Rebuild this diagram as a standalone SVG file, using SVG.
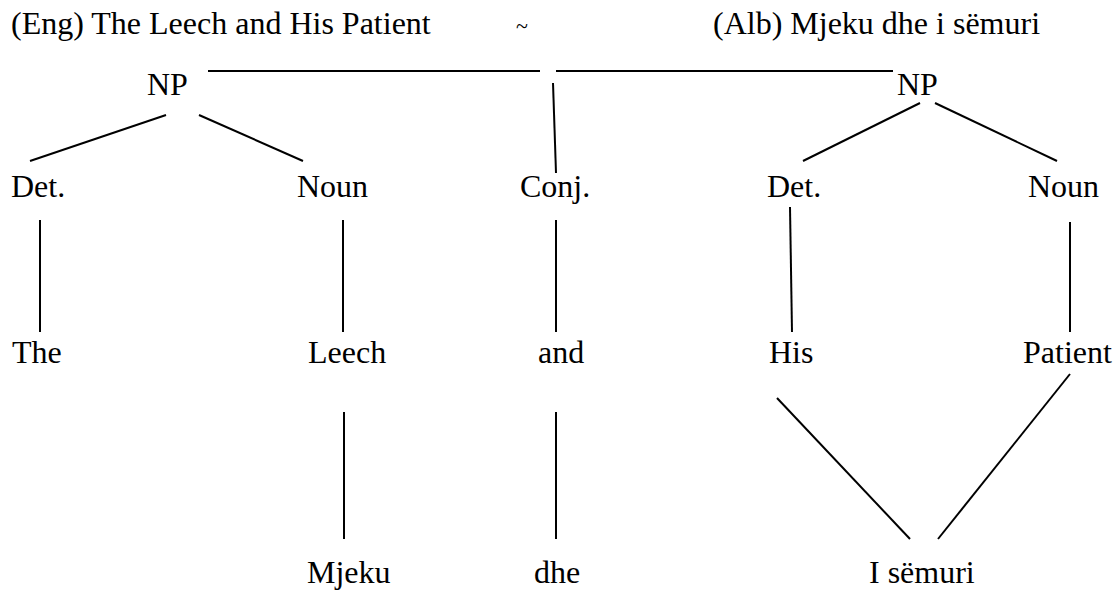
<svg xmlns="http://www.w3.org/2000/svg" width="1115" height="592" viewBox="0 0 1115 592">
<style>
text{font-family:"Liberation Serif","Times New Roman",serif;font-size:32px;fill:#000}
.tl{font-size:22px}
.c line{stroke:#000;stroke-width:2;fill:none}
</style>
<rect width="1115" height="592" fill="#fff"/>
<g id="title-eng"><text x="11" y="34">(Eng) The Leech and His Patient</text></g>
<g id="tilde"><text class="tl" x="516" y="33">~</text></g>
<g id="title-alb"><text x="713" y="34">(Alb) Mjeku dhe i sëmuri</text></g>
<g id="np-left"><text x="147" y="95">NP</text></g>
<g id="np-right"><text x="897" y="95">NP</text></g>
<g id="det-left"><text x="11" y="197">Det.</text></g>
<g id="noun-left"><text x="297" y="197">Noun</text></g>
<g id="conj"><text x="520" y="197">Conj.</text></g>
<g id="det-right"><text x="767" y="197">Det.</text></g>
<g id="noun-right"><text x="1028" y="197">Noun</text></g>
<g id="the"><text x="12" y="363">The</text></g>
<g id="leech"><text x="308" y="363">Leech</text></g>
<g id="and"><text x="538" y="363">and</text></g>
<g id="his"><text x="769" y="363">His</text></g>
<g id="patient"><text x="1023" y="363">Patient</text></g>
<g id="mjeku"><text x="307" y="583">Mjeku</text></g>
<g id="dhe"><text x="534" y="583">dhe</text></g>
<g id="i-semuri"><text x="869" y="583">I sëmuri</text></g>
<g id="connectors" class="c">
<line x1="208" y1="71" x2="540" y2="71"/>
<line x1="556" y1="71" x2="893" y2="71"/>
<line x1="553" y1="83" x2="556" y2="173"/>
<line x1="166" y1="115" x2="30" y2="161"/>
<line x1="199" y1="115" x2="303" y2="161"/>
<line x1="920" y1="103" x2="803" y2="161"/>
<line x1="935" y1="103" x2="1057" y2="161"/>
<line x1="40" y1="220" x2="40" y2="332"/>
<line x1="343" y1="220" x2="343" y2="332"/>
<line x1="556" y1="220" x2="556" y2="332"/>
<line x1="790" y1="207" x2="792" y2="332"/>
<line x1="1070" y1="222" x2="1070" y2="332"/>
<line x1="344" y1="412" x2="344" y2="539"/>
<line x1="556" y1="412" x2="556" y2="539"/>
<line x1="777" y1="398" x2="910" y2="539"/>
<line x1="1070" y1="374" x2="938" y2="539"/>
</g>
</svg>
